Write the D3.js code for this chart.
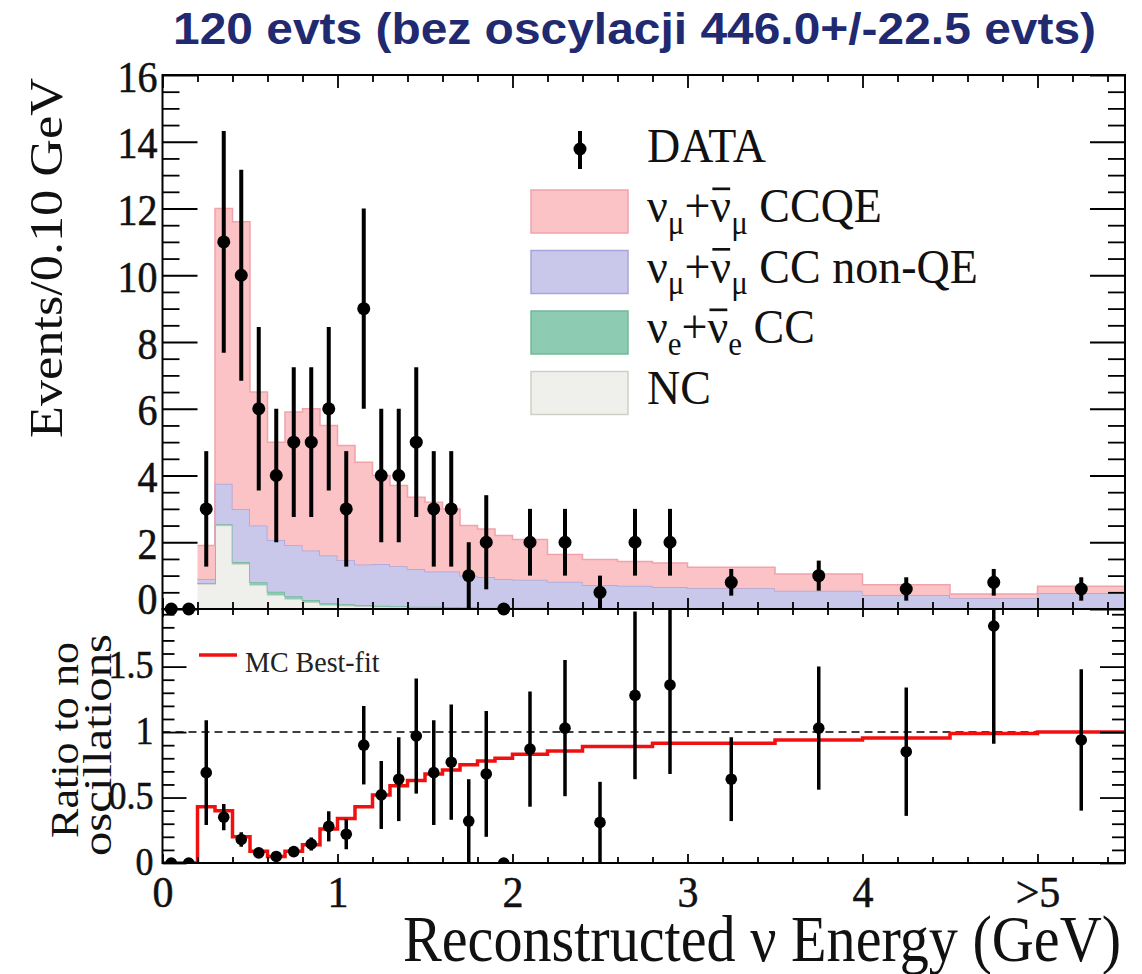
<!DOCTYPE html>
<html>
<head>
<meta charset="utf-8">
<script src="https://cdn.jsdelivr.net/npm/d3@7"></script>
<style>
  body { margin: 0; background: #fff; }
  svg text { font-family: "Liberation Serif", "Times New Roman", serif; fill: #111; }
</style>
</head>
<body>
<svg id="chart" width="1142" height="974"></svg>
<script>
// ---- data ----
const binEdges = [0, 0.1, 0.2, 0.3, 0.4, 0.5, 0.6, 0.7, 0.8, 0.9, 1.0, 1.1, 1.2, 1.3, 1.4, 1.5,
  1.6, 1.7, 1.8, 1.9, 2.0, 2.2, 2.4, 2.6, 2.8, 3.0, 3.5, 4.0, 4.5, 5.0, 5.5];

// events / 0.10 GeV, stacked MC components
const mcNC = [0, 0, 0.75, 2.5, 1.35, 0.72, 0.42, 0.3, 0.2, 0.12, 0.1, 0.08, 0.07, 0.06, 0.05,
  0.05, 0.04, 0.04, 0.03, 0.03, 0.03, 0.02, 0.02, 0.02, 0.02, 0.02, 0.01, 0.01, 0.01, 0.01];
const mcNue = [0, 0, 0.02, 0.04, 0.06, 0.08, 0.1, 0.08, 0.07, 0.05, 0.04, 0.03, 0.03, 0.02, 0.02,
  0.02, 0.02, 0.01, 0.01, 0.01, 0.01, 0.01, 0.01, 0.01, 0.01, 0.01, 0.01, 0.01, 0.01, 0.01];
const mcNonQE = [0, 0, 0.13, 1.21, 1.59, 1.7, 1.55, 1.53, 1.48, 1.43, 1.32, 1.22, 1.25, 1.2, 1.13,
  1.05, 1.06, 0.95, 0.92, 0.86, 0.84, 0.79, 0.69, 0.67, 0.63, 0.59, 0.53, 0.4, 0.3, 0.46];
const mcCCQE = [0, 0, 1.0, 8.25, 8.6, 4.0, 2.93, 3.99, 4.25, 3.9, 3.44, 3.07, 2.65, 2.42, 2.15,
  2.08, 1.88, 1.5, 1.44, 1.3, 1.2, 0.81, 0.76, 0.72, 0.72, 0.63, 0.5, 0.31, 0.13, 0.2];

const dataVal = [0, 0, 3, 11, 10, 6, 4, 5, 5, 6, 3, 9, 4, 4, 5, 3, 3, 1, 2, 0,
  2, 2, 0.5, 2, 2, 0.8, 1.0, 0.6, 0.8, 0.6];
const dataErr = [0, 0, 1.73, 3.32, 3.16, 2.45, 2, 2.24, 2.24, 2.45, 1.73, 3, 2, 2, 2.24, 1.73,
  1.73, 1, 1.41, 0, 1, 1, 0.5, 1, 1, 0.4, 0.45, 0.35, 0.4, 0.35];

// ratio to no oscillations
const ratioVal = [0, 0, 0.69, 0.35, 0.18, 0.077, 0.05, 0.087, 0.145, 0.28, 0.22, 0.9, 0.52, 0.64,
  0.97, 0.69, 0.77, 0.32, 0.68, 0, 0.87, 1.03, 0.31, 1.28, 1.36, 0.64, 1.03, 0.85, 1.81, 0.94];
const ratioErr = [0, 0, 0.4, 0.1, 0.055, 0.035, 0.03, 0.035, 0.05, 0.115, 0.115, 0.3, 0.26, 0.32,
  0.44, 0.4, 0.44, 0.32, 0.48, 0, 0.44, 0.52, 0.31, 0.64, 0.68, 0.32, 0.47, 0.49, 0.9, 0.54];
const bestFit = [0, 0, 0.43, 0.40, 0.2, 0.09, 0.05, 0.09, 0.14, 0.26, 0.34, 0.43, 0.52, 0.59,
  0.63, 0.68, 0.71, 0.75, 0.78, 0.8, 0.83, 0.855, 0.89, 0.89, 0.915, 0.915, 0.94, 0.955, 0.99, 1.0];

const xTickValues = [0, 1, 2, 3, 4, 5];
const xTickLabels = ["0", "1", "2", "3", "4", ">5"];
const yTopTicks = [0, 2, 4, 6, 8, 10, 12, 14, 16];
const yBotTicks = [0, 0.5, 1, 1.5];
const yBotTickLabels = ["0", "0.5", "1", "1.5"];

// legend rows; bar = antineutrino overline, sub = subscript
const legendItems = [
  { key: "ccqe", fill: "#fbc3c6", stroke: "#f1a3aa",
    parts: [{ t: "ν" }, { t: "μ", sub: 1 }, { t: "+" }, { t: "ν", bar: 1 }, { t: "μ", sub: 1 }, { t: " CCQE" }] },
  { key: "nonqe", fill: "#c9c7ea", stroke: "#a8a4db",
    parts: [{ t: "ν" }, { t: "μ", sub: 1 }, { t: "+" }, { t: "ν", bar: 1 }, { t: "μ", sub: 1 }, { t: " CC non-QE" }] },
  { key: "nue", fill: "#8dcbb2", stroke: "#72b99a",
    parts: [{ t: "ν" }, { t: "e", sub: 1 }, { t: "+" }, { t: "ν", bar: 1 }, { t: "e", sub: 1 }, { t: " CC" }] },
  { key: "nc", fill: "#efefec", stroke: "#cfd0c6", parts: [{ t: "NC" }] },
];

// ---- scales ----
const svg = d3.select("#chart");
const L = 162.5, R = 1125, T = 75, MID = 609, B = 863;
const x = d3.scaleLinear().domain([0, 5.5]).range([L, R]);
const yTop = d3.scaleLinear().domain([0, 16]).range([MID, T]);
const yBot = d3.scaleLinear().domain([0, 1.94]).range([B, MID]);

svg.append("rect").attr("width", 1142).attr("height", 974).attr("fill", "#fff");

const defs = svg.append("defs");
defs.append("clipPath").attr("id", "clipTop").append("rect")
  .attr("x", L).attr("y", T).attr("width", R - L).attr("height", MID - T);
defs.append("clipPath").attr("id", "clipBot").append("rect")
  .attr("x", L).attr("y", MID).attr("width", R - L).attr("height", B - MID);

const bins = binEdges.slice(0, -1).map((lo, i) => ({
  lo, hi: binEdges[i + 1], mid: (lo + binEdges[i + 1]) / 2,
  nc: mcNC[i], nue: mcNue[i], nonqe: mcNonQE[i], ccqe: mcCCQE[i],
}));

// ---- stacked MC histogram ----
const layers = d3.stack().keys(["nc", "nue", "nonqe", "ccqe"])(bins);
const stepPts = layer => layer.flatMap((d, i) => [
  { x: bins[i].lo, y0: d[0], y1: d[1] }, { x: bins[i].hi, y0: d[0], y1: d[1] }]);
const area = d3.area().x(p => x(p.x)).y0(p => yTop(p.y0)).y1(p => yTop(p.y1));
const topLine = d3.line().x(p => x(p.x)).y(p => yTop(p.y1));

const gTop = svg.append("g").attr("clip-path", "url(#clipTop)");
layers.forEach(layer => {
  const st = legendItems.find(l => l.key === layer.key);
  const pts = stepPts(layer);
  gTop.append("path").attr("d", area(pts)).attr("fill", st.fill);
  gTop.append("path").attr("d", topLine(pts.filter(p => p.y1 > 0)))
    .attr("fill", "none").attr("stroke", st.stroke).attr("stroke-width", 1.5);
});

// ---- data points ----
function drawPoints(g, y, vals, errs, r, w) {
  bins.forEach((b, i) => {
    if (errs[i] > 0) {
      g.append("line").attr("x1", x(b.mid)).attr("x2", x(b.mid))
        .attr("y1", y(Math.max(0, vals[i] - errs[i]))).attr("y2", y(vals[i] + errs[i]))
        .attr("stroke", "#000").attr("stroke-width", w);
    }
  });
  g.selectAll(null).data(bins).join("circle")
    .attr("cx", b => x(b.mid)).attr("cy", (b, i) => y(vals[i])).attr("r", r).attr("fill", "#000");
}
drawPoints(svg.append("g"), yTop, dataVal, dataErr, 6.5, 4);

// ---- lower panel ----
const gBot = svg.append("g").attr("clip-path", "url(#clipBot)");
gBot.append("line").attr("x1", L).attr("x2", R).attr("y1", yBot(1)).attr("y2", yBot(1))
  .attr("stroke", "#000").attr("stroke-width", 1.5).attr("stroke-dasharray", "8,5");
const fitPts = [{ x: 0, v: 0 }].concat(bins.flatMap((b, i) => [{ x: b.lo, v: bestFit[i] }, { x: b.hi, v: bestFit[i] }]));
gBot.append("path")
  .attr("d", d3.line().x(p => x(p.x)).y(p => yBot(p.v))(fitPts))
  .attr("fill", "none").attr("stroke", "#f01010").attr("stroke-width", 3.5);
drawPoints(gBot, yBot, ratioVal, ratioErr, 5.8, 3.5);

// ---- axes (ROOT style, ticks inside on all sides) ----
function axisG(gen, tx, ty) {
  const g = svg.append("g").attr("transform", `translate(${tx},${ty})`).call(gen);
  g.select(".domain").remove();
  g.selectAll("line").attr("stroke", "#000").attr("stroke-width", 1.8);
  g.selectAll("text").style("font-family", "'Liberation Serif', serif").style("fill", "#111")
    .style("stroke", "#111").style("stroke-width", 0.5);
  return g;
}
const range = (a, b, s) => d3.range(Math.round((b - a) / s) + 1).map(k => +(a + k * s).toFixed(3));
const xMinor = range(0, 5.4, 0.2).filter(v => !xTickValues.includes(v));
const yTopMinor = range(0, 16, 0.5).filter(v => v % 2 !== 0);
const yBotMinor = range(0, 1.9, 0.1).filter(v => !yBotTicks.includes(v));

// upper panel
const yl = axisG(d3.axisLeft(yTop).tickValues(yTopTicks).tickSizeInner(-35).tickSizeOuter(0).tickPadding(5), L, 0);
yl.selectAll("text").style("font-size", "40px").attr("dy", "0.36em").attr("transform", "scale(1,1.12)");
yl.selectAll("text").filter(d => d === 0).attr("dy", "0.1em");
axisG(d3.axisLeft(yTop).tickValues(yTopMinor).tickSize(-17).tickFormat(""), L, 0);
axisG(d3.axisRight(yTop).tickValues(yTopTicks).tickSize(-35).tickFormat(""), R, 0);
axisG(d3.axisRight(yTop).tickValues(yTopMinor).tickSize(-17).tickFormat(""), R, 0);
axisG(d3.axisTop(x).tickValues(xTickValues).tickSize(-13).tickFormat(""), 0, T);
axisG(d3.axisTop(x).tickValues(xMinor).tickSize(-7).tickFormat(""), 0, T);
axisG(d3.axisBottom(x).tickValues(xTickValues).tickSize(-11).tickFormat(""), 0, MID);
axisG(d3.axisBottom(x).tickValues(xMinor).tickSize(-7).tickFormat(""), 0, MID);

// lower panel
const bl = axisG(d3.axisLeft(yBot).tickValues(yBotTicks).tickSizeInner(-24).tickSizeOuter(0).tickPadding(9)
  .tickFormat((d, i) => yBotTickLabels[i]), L, 0);
bl.selectAll("text").style("font-size", "36px").attr("dy", "0.28em").attr("transform", "scale(1,1.12)");
axisG(d3.axisLeft(yBot).tickValues(yBotMinor).tickSize(-12).tickFormat(""), L, 0);
axisG(d3.axisRight(yBot).tickValues(yBotTicks).tickSize(-25).tickFormat(""), R, 0);
axisG(d3.axisRight(yBot).tickValues(yBotMinor).tickSize(-13).tickFormat(""), R, 0);
axisG(d3.axisTop(x).tickValues(xTickValues).tickSize(-8).tickFormat(""), 0, MID);
axisG(d3.axisTop(x).tickValues(xMinor).tickSize(-6).tickFormat(""), 0, MID);
const bx = axisG(d3.axisBottom(x).tickValues(xTickValues).tickSizeInner(-9).tickSizeOuter(0).tickPadding(12)
  .tickFormat((d, i) => xTickLabels[i]), 0, B);
bx.selectAll("text").style("font-size", "42px").attr("transform", "scale(1,1.06)");
axisG(d3.axisBottom(x).tickValues(xMinor).tickSize(-6).tickFormat(""), 0, B);

// frames
[[T, MID], [MID, B]].forEach(([a, b]) => {
  svg.append("rect").attr("x", L).attr("y", a).attr("width", R - L).attr("height", b - a)
    .attr("fill", "none").attr("stroke", "#000").attr("stroke-width", 2);
});

// ---- legends ----
const lg = svg.append("g");
lg.append("line").attr("x1", 580).attr("x2", 580).attr("y1", 131).attr("y2", 169)
  .attr("stroke", "#000").attr("stroke-width", 4);
lg.append("circle").attr("cx", 580).attr("cy", 149).attr("r", 6.5).attr("fill", "#000");
lg.append("text").attr("transform", "translate(647,162) scale(1,1.07)").style("font-size", "46px").text("DATA");

legendItems.forEach((it, i) => {
  const y0 = 190 + i * 60.5, base = y0 + 32;
  lg.append("rect").attr("x", 531).attr("y", y0).attr("width", 97).attr("height", 43)
    .attr("fill", it.fill).attr("stroke", it.stroke).attr("stroke-width", 1.5);
  const row = lg.append("g").attr("transform", `translate(647,${base}) scale(1,1.07)`);
  const t = row.append("text").attr("x", 0).attr("y", 0).style("font-size", "46px");
  let down = false;
  const bars = [];
  it.parts.forEach(p => {
    const ts = t.append("tspan").text(p.t).style("font-size", p.sub ? "31px" : "46px");
    if (p.sub && !down) { ts.attr("dy", 11); down = true; }
    else if (!p.sub && down) { ts.attr("dy", -11); down = false; }
    if (p.bar) bars.push(ts);
  });
  bars.forEach(ts => {
    const n = ts.node();
    const x0 = n.getStartPositionOfChar(0).x, x1 = n.getEndPositionOfChar(0).x;
    row.append("line").attr("x1", x0 + 2).attr("x2", x1 - 1).attr("y1", -31).attr("y2", -31)
      .attr("stroke", "#111").attr("stroke-width", 2.5);
  });
});

svg.append("line").attr("x1", 199).attr("x2", 237).attr("y1", 655).attr("y2", 655)
  .attr("stroke", "#f01010").attr("stroke-width", 3.5);
svg.append("text").attr("transform", "translate(245,672) scale(1,1.08)").style("font-size", "28px")
  .style("fill", "#222").text("MC Best-fit");

// ---- titles ----
svg.append("text").attr("x", 173).attr("y", 44)
  .style("font-family", "'Liberation Sans', Arial, sans-serif").style("font-weight", "bold")
  .style("font-size", "45px").style("fill", "#1f2a70")
  .attr("textLength", 923).attr("lengthAdjust", "spacingAndGlyphs")
  .text("120 evts (bez oscylacji 446.0+/-22.5 evts)");

svg.append("text").attr("transform", "translate(403,961) scale(1,1.14)").style("font-size", "58px")
  .attr("textLength", 718).attr("lengthAdjust", "spacingAndGlyphs")
  .text("Reconstructed ν Energy (GeV)");

svg.append("text").attr("transform", "translate(62,258) rotate(-90)")
  .attr("text-anchor", "middle").style("font-size", "46px")
  .attr("textLength", 360).attr("lengthAdjust", "spacingAndGlyphs")
  .text("Events/0.10 GeV");

svg.append("text").attr("transform", "translate(78,740) rotate(-90)")
  .attr("text-anchor", "middle").style("font-size", "41px")
  .attr("textLength", 196).attr("lengthAdjust", "spacingAndGlyphs").text("Ratio to no");
svg.append("text").attr("transform", "translate(111,745) rotate(-90)")
  .attr("text-anchor", "middle").style("font-size", "41px")
  .attr("textLength", 222).attr("lengthAdjust", "spacingAndGlyphs").text("oscillations");
</script>
</body>
</html>
